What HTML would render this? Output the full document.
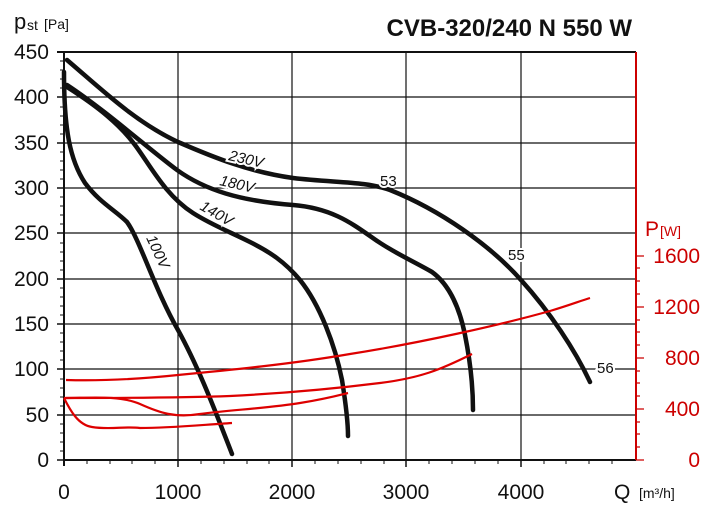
<!DOCTYPE html>
<html><head><meta charset="utf-8"><style>
html,body{margin:0;padding:0;background:#fff;}
svg{display:block;font-family:"Liberation Sans",sans-serif;}
</style></head><body>
<svg width="716" height="514" viewBox="0 0 716 514">
<g stroke="#111" stroke-width="1.2">
<line x1="64" y1="415" x2="636" y2="415"/><line x1="64" y1="369" x2="636" y2="369"/>
<line x1="64" y1="324" x2="636" y2="324"/><line x1="64" y1="279" x2="636" y2="279"/>
<line x1="64" y1="233" x2="636" y2="233"/><line x1="64" y1="188" x2="636" y2="188"/>
<line x1="64" y1="143" x2="636" y2="143"/><line x1="64" y1="97" x2="636" y2="97"/>
<line x1="178" y1="52" x2="178" y2="460"/><line x1="292" y1="52" x2="292" y2="460"/>
<line x1="406" y1="52" x2="406" y2="460"/><line x1="521" y1="52" x2="521" y2="460"/>
</g>
<line x1="57" y1="52" x2="636" y2="52" stroke="#111" stroke-width="2"/>
<line x1="64" y1="52" x2="64" y2="466" stroke="#111" stroke-width="2"/>
<line x1="64" y1="460" x2="636" y2="460" stroke="#111" stroke-width="2"/>
<line x1="636" y1="52" x2="636" y2="460" stroke="#c00" stroke-width="2"/>
<g stroke="#111" stroke-width="1.5">
<line x1="57" y1="415" x2="64" y2="415"/><line x1="57" y1="369" x2="64" y2="369"/><line x1="57" y1="324" x2="64" y2="324"/><line x1="57" y1="279" x2="64" y2="279"/><line x1="57" y1="233" x2="64" y2="233"/><line x1="57" y1="188" x2="64" y2="188"/><line x1="57" y1="143" x2="64" y2="143"/><line x1="57" y1="97" x2="64" y2="97"/><line x1="57" y1="460" x2="64" y2="460"/>
<line x1="178" y1="460" x2="178" y2="467"/><line x1="292" y1="460" x2="292" y2="467"/><line x1="406" y1="460" x2="406" y2="467"/><line x1="521" y1="460" x2="521" y2="467"/>
</g>
<g stroke="#111" stroke-width="1">
<path d="M60 451h4M60 442h4M60 433h4M60 424h4M60 406h4M60 397h4M60 388h4M60 379h4M60 360h4M60 351h4M60 342h4M60 333h4M60 315h4M60 306h4M60 297h4M60 288h4M60 270h4M60 261h4M60 252h4M60 243h4M60 224h4M60 215h4M60 206h4M60 197h4M60 179h4M60 170h4M60 161h4M60 152h4M60 134h4M60 125h4M60 116h4M60 107h4M60 88h4M60 79h4M60 70h4M60 61h4"/>
<path d="M87 460v4M110 460v4M132 460v4M155 460v4M201 460v4M224 460v4M247 460v4M269 460v4M315 460v4M338 460v4M361 460v4M384 460v4M429 460v4M452 460v4M475 460v4M498 460v4M544 460v4M566 460v4M589 460v4M612 460v4"/>
</g>
<g stroke="#c00" stroke-width="1.2">
<path d="M636 460h8M636 409h8M636 358h8M636 307h8M636 256h8"/>
<path d="M636 447h4M636 434h4M636 422h4M636 396h4M636 383h4M636 371h4M636 345h4M636 332h4M636 320h4M636 294h4M636 281h4M636 268h4"/>
</g>
<g font-size="21" fill="#111" text-anchor="end">
<text x="49" y="467">0</text><text x="49" y="422">50</text><text x="49" y="376">100</text><text x="49" y="331">150</text><text x="49" y="286">200</text><text x="49" y="240">250</text><text x="49" y="195">300</text><text x="49" y="150">350</text><text x="49" y="104">400</text><text x="49" y="59">450</text>
</g>
<g font-size="21" fill="#111" text-anchor="middle">
<text x="64" y="499">0</text><text x="178" y="499">1000</text><text x="292" y="499">2000</text><text x="406" y="499">3000</text><text x="521" y="499">4000</text>
</g>
<text x="614" y="499" font-size="21" fill="#111">Q</text><text x="639" y="498" font-size="14" fill="#111">[m³/h]</text>
<text x="14" y="29" font-size="22" fill="#111">p</text><text x="27" y="30" font-size="14" fill="#111">st</text><text x="44" y="29" font-size="14" fill="#111">[Pa]</text>
<g font-size="21" fill="#c00" text-anchor="end">
<text x="700" y="467">0</text><text x="700" y="416">400</text><text x="700" y="365">800</text><text x="700" y="314">1200</text><text x="700" y="263">1600</text>
</g>
<text x="645" y="236" font-size="21" fill="#c00">P</text><text x="660" y="236" font-size="14" fill="#c00">[W]</text>
<text x="632" y="36" font-size="24" font-weight="bold" fill="#111" text-anchor="end">CVB-320/240 N 550 W</text>
<g fill="none" stroke="#111" stroke-width="4.5" stroke-linecap="round">
<path d="M67 60 C100 88 135 122 178 142 C215 158 250 172 293 178 C335 183 365 181 390 190 C440 210 490 245 521 280 C550 312 575 350 590 382"/>
<path d="M67 85 C105 110 150 150 177 170 C205 190 240 201 293 205 C330 208 350 222 370 236 C392 252 415 262 432 272 C450 285 460 310 465 335 C471 365 473 390 473 410"/>
<path d="M67 87 C100 108 120 125 135 145 C150 165 165 195 193 213 C210 224 230 232 250 242 C270 252 285 262 300 280 C320 305 335 345 342 380 C346 405 348 425 348 436"/>
<path d="M64 72 C64 130 70 160 85 183 C100 203 115 210 127 222 C140 240 155 290 178 330 C200 370 218 418 232 454"/>
</g>
<g fill="none" stroke="#d00" stroke-width="2.2">
<path d="M66 380 C100 381 140 379 178 375 C230 370 292 364 350 354 C420 343 500 325 550 311 C570 305 580 301 590 298"/>
<path d="M66 398 C120 398 178 398 230 396 C290 393 340 388 380 383 C420 378 440 370 472 354"/>
<path d="M64 398 C90 398 120 395 140 404 C160 413 175 418 200 414 C230 410 270 408 300 403 C325 399 340 395 348 393"/>
<path d="M64 398 C70 410 78 425 92 427 C110 430 125 426 140 428 C170 428 200 425 232 423"/>
</g>
<g font-size="15" fill="#111" font-style="italic" stroke="#fff" stroke-width="4" paint-order="stroke">
<text transform="translate(228,160) rotate(13)">230V</text>
<text transform="translate(219,185) rotate(13)">180V</text>
<text transform="translate(199,209) rotate(30)">140V</text>
<text transform="translate(146,238) rotate(65)">100V</text>
</g>
<g font-size="15" fill="#111" stroke="#fff" stroke-width="4" paint-order="stroke">
<text x="380" y="186">53</text><text x="508" y="260">55</text><text x="597" y="373">56</text>
</g>
<line x1="618" y1="369" x2="624" y2="369" stroke="#111" stroke-width="1"/>
</svg>
</body></html>
